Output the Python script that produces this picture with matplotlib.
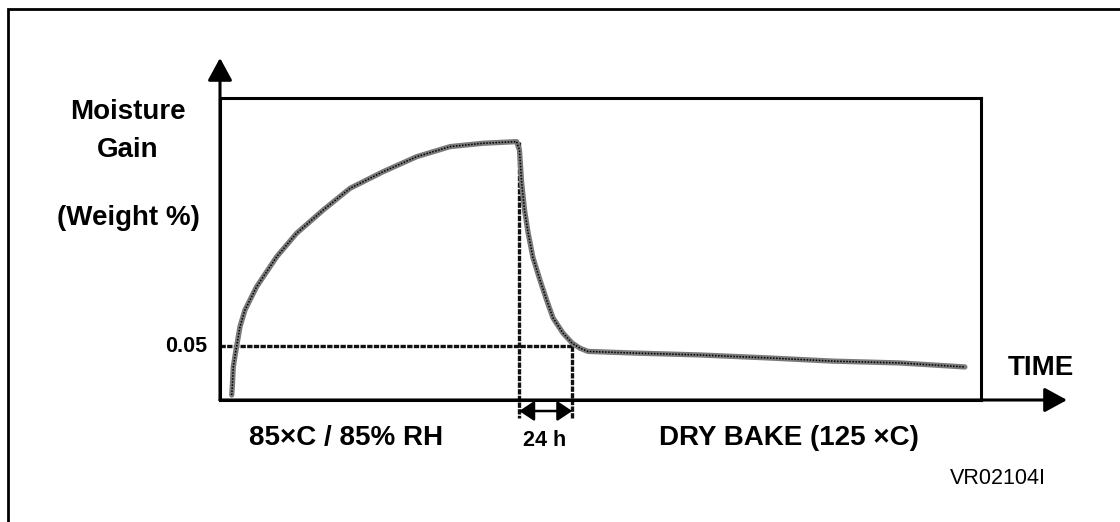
import matplotlib.pyplot as plt
from matplotlib.patches import Rectangle

plt.rcParams['font.family'] = ['Liberation Sans', 'DejaVu Sans']

# curve: time (h) vs moisture gain (weight %)
time_h = [5.3, 5.57, 6.02, 7.24, 9.06, 11.3, 16.6, 25.7, 34.7, 46.8, 58.9, 73.9, 89.1,
          104.2, 119.2, 134.3, 135.6, 136.6, 137.9, 139.5, 141.7, 144.9, 147.9, 150.8,
          155.3, 159.4, 163.0, 166.6, 187.0, 217.3, 247.7, 277.6, 307.9, 337.3]
moisture_pct = [0.0046, 0.0123, 0.0308, 0.0463, 0.0679, 0.0833, 0.1049, 0.1327, 0.1544,
                0.176, 0.196, 0.2114, 0.2253, 0.2346, 0.2377, 0.2392, 0.2315, 0.201,
                0.176, 0.155, 0.132, 0.111, 0.0926, 0.076, 0.062, 0.0528, 0.048, 0.045,
                0.0435, 0.0417, 0.039, 0.036, 0.0343, 0.0306]
threshold = 0.05
bake_start = 135.5
bake_window = 24
peak = 0.239
x_max = 344.6
y_max = 0.2796

W, H = 1120, 522
fig = plt.figure(figsize=(W / 100, H / 100), dpi=100)

def px(x, y):
    return x / W, 1 - y / H

ax = fig.add_axes([220 / W, (H - 400) / H, 761 / W, 302 / H])
ax.set_xlim(0, x_max)
ax.set_ylim(0, y_max)
ax.set_xticks([])
ax.set_yticks([])
for s in ax.spines.values():
    s.set_linewidth(2.2)
    s.set_color('black')

# moisture curve: grey band with a dark dotted core
ax.plot(time_h, moisture_pct, color='#7a7a7a', lw=3.8, solid_joinstyle='round',
        solid_capstyle='round', zorder=3)
ax.plot(time_h, moisture_pct, color='black', lw=1.1, linestyle=(0, (1, 1)), zorder=4)

# dotted guide lines
dot = dict(color='#111111', lw=2.4, linestyle=(0, (1.6, 0.4)), clip_on=False, zorder=2)
below = -0.0167
ax.plot([0, bake_start + bake_window], [threshold, threshold], **dot)
ax.plot([bake_start, bake_start], [peak, below], **dot)
ax.plot([bake_start + bake_window] * 2, [threshold, below], **dot)

# 24 h double arrow
ax.annotate('', xy=(bake_start + bake_window, -0.0102), xytext=(bake_start, -0.0102),
            xycoords='data', annotation_clip=False,
            arrowprops=dict(arrowstyle='<|-|>,head_length=0.45,head_width=0.3',
                            mutation_scale=20, color='black', lw=1.8,
                            shrinkA=0, shrinkB=0))

# axis arrows
head = dict(arrowstyle='-|>,head_length=0.55,head_width=0.3', mutation_scale=25,
            color='black', lw=2.2, shrinkA=0, shrinkB=0)
ax.annotate('', xy=(0, 1.1325), xytext=(0, 0), xycoords='axes fraction',
            annotation_clip=False, arrowprops=head)
ax.annotate('', xy=(1.113, 0), xytext=(0, 0), xycoords='axes fraction',
            annotation_clip=False, arrowprops=head)

# outer frame
fig.patches.append(Rectangle(px(8, 535), 1.2, 526 / H, transform=fig.transFigure,
                             fill=False, lw=2.0, edgecolor='black'))

# title, cut off at the top of the picture (only descenders show)
fig.text(*px(8, -4.8), 'Figure 2. Humidity Absorption and Baking', fontsize=16,
         fontweight='bold', va='baseline', ha='left')

bold = dict(fontweight='bold', color='black')
fig.text(*px(128, 112), 'Moisture', fontsize=20, ha='center', va='center', **bold)
fig.text(*px(128, 150), 'Gain', fontsize=20, ha='center', va='center', **bold)
fig.text(*px(128, 218), '(Weight %)', fontsize=20, ha='center', va='center', **bold)
fig.text(*px(207, 347), '0.05', fontsize=15.5, ha='right', va='center', **bold)
fig.text(*px(1041, 368), 'TIME', fontsize=20, ha='center', va='center', **bold)
fig.text(*px(346, 438), '85×C / 85% RH', fontsize=20, ha='center', va='center', **bold)
fig.text(*px(545, 441), '24 h', fontsize=15.5, ha='center', va='center', **bold)
fig.text(*px(789, 438), 'DRY BAKE (125 ×C)', fontsize=20, ha='center', va='center', **bold)
fig.text(*px(998, 478), 'VR02104I', fontsize=15.5, ha='center', va='center')

fig.savefig('out.png', dpi=100)
